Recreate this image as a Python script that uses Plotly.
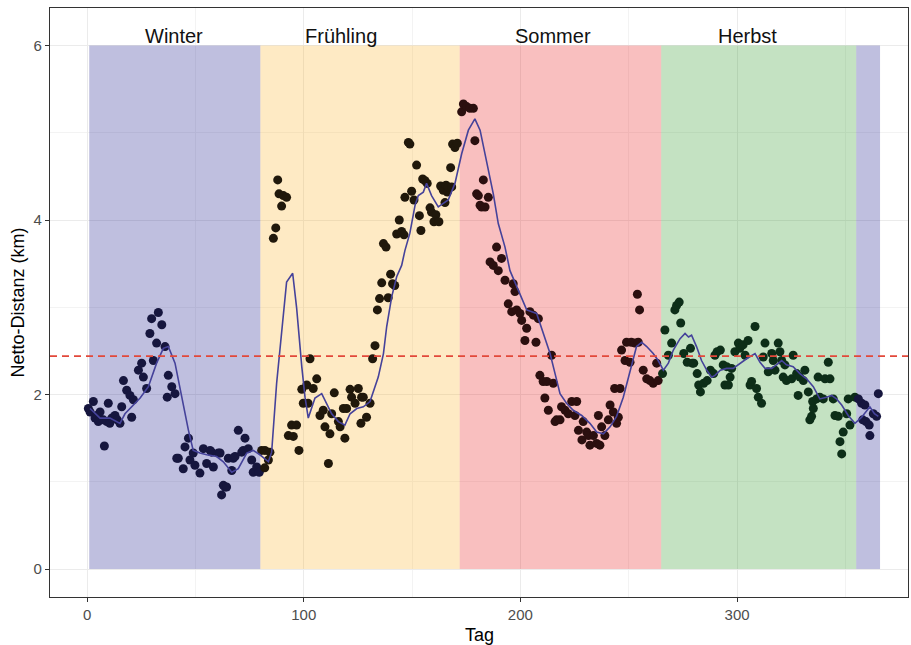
import plotly.graph_objects as go

# ---------------- data ----------------
point_day = [0.6, 1.4, 2.9, 3.7, 4.5, 5.2, 6, 7.5, 8, 9.1, 9.8, 10.5, 11.4, 12.9, 14, 15.2, 16, 16.8, 18.3, 19.8,
             20.6, 21.4, 23.7, 25.2, 26, 27.5, 29, 29.8, 30.6, 32.1, 32.9, 34.5, 36, 37, 37.5, 39.1, 40.6,
             41.4, 42.1, 44.4, 45.2, 46.8, 47.5, 49, 49.8, 52.1, 53.7, 55.2, 56.8, 57.5, 58.3, 60.6, 61.4,
             62.1, 62.9, 63.7, 64.4, 65.2, 66.8, 67.5, 68.3, 69.8, 71.4, 72.1, 72.9, 74.4, 76, 76.7, 78.3, 79.5,
             80.6, 82, 82.1, 83.7, 84.4, 86, 87.1, 88, 88.6, 89.8, 90.6, 92.1, 92.9, 94.4, 95.2, 96.7, 97.8,
             99.1, 99.8, 101.4, 102, 102.9, 104.4, 106, 107.5, 109, 109.8, 111.4, 112.1, 112.9, 114.1, 116,
             116.8, 118.3, 119, 119.8, 121.4, 122.1, 123.7, 125.2, 126.4, 126.7, 127.5, 129, 130.6, 131.8,
             132.9, 134, 135, 136, 136.8, 138, 139, 140.1, 141, 142, 142.9, 144.1, 145.2, 146.3, 146.7, 148.3,
             149, 149.8, 150.9, 152.1, 153.4, 154.1, 154.9, 156, 157, 158.3, 159, 160.1, 161, 162.4, 163.2,
             164.4, 165.2, 165.7, 166.3, 166.7, 167.8, 168.3, 168.7, 169.8, 170.9,
             172.9, 173.7, 175.2, 176.7, 178.3, 179, 179.8, 180.6, 181.4, 182.1, 182.9, 183.7, 185.2, 186,
             187.5, 189, 189.8, 191.3, 192.9, 194.4, 196, 196.7, 197.5, 198.3, 199.8, 200.6, 202.1, 202.9,
             204.4, 206, 207.2, 208.3, 209, 210.5, 211.3, 212.2, 212.9, 214.4, 215.2, 216, 216.7, 218.3, 219,
             220.6, 222.1, 223.7, 225.2, 226, 226.8, 228.4, 229, 230.6, 231.4, 232.1, 233.7, 235.2, 236,
             236.7, 237.5, 239, 240.6, 241.4, 242.9, 243.5, 244.4, 245.2, 246, 246.7, 248.3, 249, 250.6,
             251.2, 252.9, 254, 254.4, 255, 256.7, 258.3, 259.8, 261.3, 262.9, 263.6,
             265.6, 266.7, 268.3, 269.8, 271.3, 272.1, 273.3, 274, 275.4, 277, 278.5, 279.3, 280, 281.6,
             282.3, 283.1, 284.6, 286.2, 287.7, 289.2, 289.8, 290.8, 292.3, 293.6, 294.4, 295.2, 296, 296.8,
             297.5, 299, 300.6, 301.3, 302.8, 303.7, 305.1, 306, 306.7, 308.3, 309, 309.8, 311.3, 312.1,
             312.9, 314.4, 316, 316.7, 317.5, 319, 319.8, 320.6, 321.3, 322.1, 322.8, 325.2, 325.9, 327.5,
             328.2, 329, 330.6, 331.3, 332.9, 333.6, 334.4, 334.9, 335.2, 336.7, 337.4, 338.2, 339.8, 340.6,
             342.1, 342.9, 344.4, 345.2, 346.7, 347.5, 348.3, 349, 350.6, 351.3, 352.1,
             354.4, 356, 357.5, 358, 359, 359.5, 361, 361.3, 362.9, 364.4, 365.2]
point_dist = [1.84, 1.80, 1.92, 1.73, 1.76, 1.69, 1.80, 1.71, 1.41, 1.69, 1.90, 1.67, 1.73, 1.76, 1.71, 1.67, 1.86,
              2.16, 2.05, 1.99, 1.74, 1.94, 2.28, 2.36, 2.20, 2.07, 2.70, 2.87, 2.39, 2.59, 2.94, 2.80, 2.55,
              1.97, 2.22, 2.09, 2.01, 1.27, 1.27, 1.15, 1.40, 1.50, 1.25, 1.33, 1.19, 1.10, 1.38, 1.21, 1.36,
              1.34, 1.17, 1.33, 1.33, 0.85, 0.96, 0.94, 0.94, 1.27, 1.13, 1.27, 1.29, 1.59, 1.34, 1.36, 1.50,
              1.38, 1.25, 1.11, 1.17, 1.11,
              1.36, 1.16, 1.36, 1.25, 1.34, 3.79, 3.91, 4.46, 4.30, 4.16, 4.28, 4.26, 1.53, 1.65, 1.52, 1.65,
              1.36, 2.06, 1.90, 2.11, 1.90, 2.41, 2.07, 2.18, 1.76, 1.82, 1.63, 1.21, 1.55, 1.78, 2.02, 1.69,
              1.63, 1.84, 1.50, 1.84, 2.06, 1.97, 1.90, 2.07, 1.67, 1.97, 1.97, 1.74, 1.90, 2.41, 2.56, 2.97,
              3.10, 3.28, 3.73, 3.69, 3.11, 3.38, 3.27, 3.25, 3.84, 4.00, 3.87, 3.83, 4.26, 4.89, 4.87, 4.33,
              4.23, 4.63, 4.05, 3.88, 4.47, 4.45, 4.42, 4.14, 4.09, 3.98, 4.06, 3.98, 4.39, 4.34, 4.20, 4.40,
              4.32, 4.38, 4.60, 4.38, 4.87, 4.83, 4.88,
              5.24, 5.33, 5.30, 5.28, 5.28, 4.91, 4.30, 4.28, 4.17, 4.15, 4.46, 4.15, 4.26, 3.52, 3.48, 3.69,
              3.42, 3.56, 3.31, 3.04, 2.95, 3.27, 3.18, 2.97, 2.93, 2.85, 2.62, 2.76, 2.95, 2.91, 2.60, 2.87,
              2.22, 2.15, 1.96, 2.15, 1.82, 2.45, 2.13, 1.69, 1.71, 1.71, 1.86, 1.82, 1.78, 1.92, 1.76, 1.92,
              1.59, 1.48, 1.69, 1.57, 1.53, 1.42, 1.53, 1.44, 1.76, 1.42, 1.63, 1.53, 1.71, 1.88, 1.80, 2.07,
              1.67, 1.74, 2.07, 2.51, 2.39, 2.60, 2.37, 2.60, 2.59, 3.15, 2.60, 2.97, 2.28, 2.18, 2.16, 2.13,
              2.36, 2.16,
              2.24, 2.74, 2.45, 2.59, 2.97, 3.02, 3.06, 2.82, 2.47, 2.37, 2.53, 2.36, 2.36, 2.24, 2.11, 2.03,
              2.13, 2.16, 2.28, 2.24, 2.45, 2.49, 2.51, 2.34, 2.11, 2.32, 2.11, 2.20, 2.30, 2.49, 2.59, 2.53,
              2.57, 2.45, 2.62, 2.11, 2.15, 2.78, 2.07, 1.97, 1.90, 2.43, 2.59, 2.26, 2.47, 2.39, 2.28, 2.59,
              2.49, 2.39, 2.20, 2.34, 2.16, 2.18, 2.45, 2.24, 1.99, 2.20, 2.16, 2.28, 2.03, 1.71, 1.75, 1.92,
              1.84, 1.95, 2.20, 1.97, 1.95, 2.18, 2.37, 2.18, 1.95, 1.76, 1.75, 1.46, 1.32, 1.57, 1.78, 1.95,
              1.65,
              1.97, 1.95, 1.90, 1.71, 1.88, 1.69, 1.65, 1.53, 1.78, 1.75, 2.01]

smooth_day = [1.4, 6, 10.6, 15.2, 17.5, 19.8, 24.5, 28.3, 32.1, 35.2, 37.5, 40.6, 43.7, 46.8, 49, 52.1, 55.2,
              59.8, 62.9, 66.8, 69.8, 73.7, 76.7, 79.8, 83.7, 85.2, 87.5, 89.8, 92.1, 94.9, 96.7, 99.1, 100.6,
              102.1, 105.2, 108.3, 110.6, 112.9, 116, 119, 121.4, 124.5, 127.5, 130.6, 134.4, 136.8, 138.3,
              140.6, 142.9, 145.2, 146.7, 149, 151.4, 152.9, 155.2, 156.7, 159, 162.1, 164.4, 166.7, 169.8,
              172.9, 176, 179, 181.4, 184.4, 187.5, 189.8, 192.9, 195.2, 199, 202.9, 207.5, 210.6, 213.7, 216,
              218.3, 221.3, 224.4, 228.3, 232.1, 235.2, 238.3, 241.4, 244.4, 247.5, 250.6, 253.6, 256, 258.3,
              261.3, 263.6, 266, 268.3, 270.6, 273.7, 276, 277.6, 279, 281.3, 283.6, 286, 288.3, 289.8, 292.3,
              295.2, 298.2, 301.3, 304.4, 308.3, 310.6, 312.9, 316, 318.2, 320.6, 322.8, 325.9, 329, 332.1,
              335.2, 338.2, 341.3, 343.6, 345.9, 348.3, 351.3, 354.4, 357.5, 359.8, 361.3, 363.4, 365.2]
smooth_dist = [1.84, 1.73, 1.73, 1.67, 1.78, 1.84, 1.96, 2.09, 2.36, 2.53, 2.55, 2.36, 1.97, 1.59, 1.36, 1.33,
               1.31, 1.29, 1.23, 1.11, 1.15, 1.33, 1.36, 1.31, 1.23, 1.34, 2.13, 2.70, 3.29, 3.39, 3.00, 2.32,
               1.97, 1.73, 1.96, 2.01, 1.90, 1.78, 1.69, 1.65, 1.78, 1.84, 1.86, 1.92, 2.20, 2.47, 2.78, 3.12,
               3.35, 3.48, 3.65, 3.85, 4.17, 4.28, 4.32, 4.42, 4.28, 4.15, 4.19, 4.23, 4.42, 4.76, 5.03, 5.16,
               5.03, 4.69, 4.30, 3.96, 3.69, 3.42, 3.20, 2.97, 2.93, 2.70, 2.47, 2.24, 2.01, 1.90, 1.82, 1.76,
               1.67, 1.57, 1.55, 1.63, 1.75, 1.97, 2.28, 2.55, 2.60, 2.55, 2.47, 2.39, 2.28, 2.36, 2.51, 2.64,
               2.70, 2.66, 2.68, 2.55, 2.39, 2.28, 2.20, 2.22, 2.28, 2.30, 2.30, 2.36, 2.41, 2.47, 2.37, 2.30,
               2.30, 2.34, 2.39, 2.34, 2.32, 2.24, 2.18, 2.09, 1.95, 1.97, 1.99, 1.95, 1.88, 1.76, 1.67, 1.74,
               1.82, 1.86, 1.78, 1.75]

mean_line = 2.44

season_names = ["Winter", "Frühling", "Sommer", "Herbst", "Winter"]
season_start = [1, 80, 172, 265, 355]
season_end = [80, 172, 265, 355, 366]
label_x = [40, 117, 215, 305]
label_text = ["Winter", "Frühling", "Sommer", "Herbst"]

x_ticks = [0, 100, 200, 300]
y_ticks = [0, 2, 4, 6]

# ---------------- styles ----------------
rect_fill = {"Winter": "rgba(0,0,128,0.25)", "Frühling": "rgba(252,170,20,0.25)",
             "Sommer": "rgba(232,0,0,0.25)", "Herbst": "rgba(20,140,10,0.25)"}
point_col = {"Winter": "#16163e", "Frühling": "#20180b", "Sommer": "#2b0f0f", "Herbst": "#0d2e18"}


def season_of(d):
    for name, s, e in zip(season_names, season_start, season_end):
        if s <= d < e:
            return name
    return "Winter"


FONT = "Liberation Sans, Arial, sans-serif"

fig = go.Figure()

shapes = []
for name, s, e in zip(season_names, season_start, season_end):
    shapes.append(dict(type="rect", xref="x", yref="y", x0=s, x1=e, y0=0, y1=6,
                       fillcolor=rect_fill[name], line=dict(width=0), layer="between"))
shapes.append(dict(type="line", xref="paper", yref="y", x0=0, x1=1, y0=mean_line, y1=mean_line,
                   line=dict(color="#e2483a", width=1.6, dash="7px,5px"), layer="above"))

fig.add_trace(go.Scatter(
    x=point_day, y=point_dist, mode="markers",
    marker=dict(size=9, color=[point_col[season_of(d)] for d in point_day], line=dict(width=0)),
    showlegend=False, hoverinfo="skip"))

fig.add_trace(go.Scatter(
    x=smooth_day, y=smooth_dist, mode="lines",
    line=dict(color="#45429a", width=1.6), showlegend=False, hoverinfo="skip"))

annotations = []
for lx, lt in zip(label_x, label_text):
    annotations.append(dict(x=lx, y=6, xref="x", yref="y", text=lt, showarrow=False,
                            yanchor="bottom", xanchor="center", yshift=-3,
                            font=dict(family=FONT, size=20, color="#111111")))
# axis titles
annotations.append(dict(x=0.5, y=0, xref="paper", yref="paper", text="Tag", showarrow=False,
                        xanchor="center", yanchor="middle", yshift=-38,
                        font=dict(family=FONT, size=18, color="black")))
annotations.append(dict(x=0, y=0.5, xref="paper", yref="paper", text="Netto-Distanz (km)",
                        showarrow=False, textangle=-90, xanchor="center", yanchor="middle",
                        xshift=-33, font=dict(family=FONT, size=18, color="black")))

fig.update_layout(
    width=911, height=645,
    margin=dict(l=50, r=3, t=8, b=48, autoexpand=False),
    paper_bgcolor="white", plot_bgcolor="white",
    shapes=shapes, annotations=annotations,
    font=dict(family=FONT),
    xaxis=dict(range=[-17.1, 378.9], tickvals=x_ticks, ticks="outside", ticklen=4, tickwidth=1,
               tickcolor="#333333", showline=True, mirror=True, linecolor="#333333", linewidth=1.3,
               showgrid=True, gridcolor="#ebebeb", gridwidth=1, zeroline=False, automargin=False,
               minor=dict(dtick=50, tick0=0, showgrid=True, gridcolor="#f3f3f3", gridwidth=0.6),
               tickfont=dict(family=FONT, size=15, color="#4d4d4d")),
    yaxis=dict(range=[-0.32, 6.43], tickvals=y_ticks, ticks="outside", ticklen=4, tickwidth=1,
               tickcolor="#333333", showline=True, mirror=True, linecolor="#333333", linewidth=1.3,
               showgrid=True, gridcolor="#ebebeb", gridwidth=1, zeroline=False, automargin=False,
               minor=dict(dtick=1, tick0=0, showgrid=True, gridcolor="#f3f3f3", gridwidth=0.6),
               tickfont=dict(family=FONT, size=15, color="#4d4d4d")),
)

fig.write_html("out.html", config={"displayModeBar": False},
               post_script="document.body.style.margin='0';document.body.style.overflow='hidden';")
